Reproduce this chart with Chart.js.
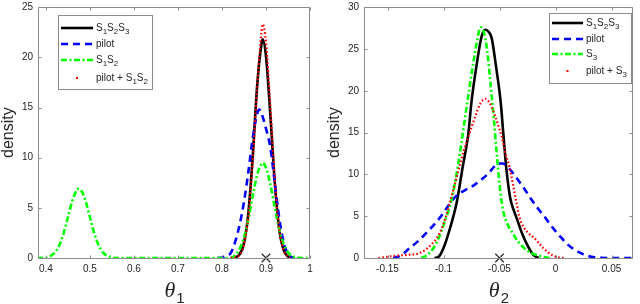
<!DOCTYPE html>
<html>
<head>
<meta charset="utf-8">
<title>theta densities</title>
<script src="https://cdn.jsdelivr.net/npm/chart.js@4.4.0/dist/chart.umd.min.js"></script>
<style>
  html, body { margin: 0; padding: 0; background: #fff; }
  #wrap { position: relative; width: 640px; height: 304px; }
  canvas { position: absolute; top: 0; }
  #c1 { left: 0; }
  #c2 { left: 320px; }
</style>
</head>
<body>
<div id="wrap">
  <canvas id="c1" width="320" height="304"></canvas>
  <canvas id="c2" width="320" height="304"></canvas>
</div>
<script>
// ---------- data ----------

// left panel (theta_1)
const xTicks1 = [0.4, 0.5, 0.6, 0.7, 0.8, 0.9, 1];
const xLabels1 = ["0.4", "0.5", "0.6", "0.7", "0.8", "0.9", "1"];
const yTicks1 = [0, 5, 10, 15, 20, 25];
const labels1 = ["S_1S_2S_3", "pilot", "S_1S_2", "pilot + S_1S_2"];
const trueX1 = [0.9];

const fullX1 = [0.82, 0.83, 0.84, 0.85, 0.86, 0.87, 0.88, 0.89, 0.8925, 0.90, 0.91, 0.92, 0.93, 0.94, 0.95, 0.96];
const fullY1 = [0, 0.07, 0.36, 1.5, 4.5, 10.2, 17.2, 21.4, 21.8, 20.1, 14.2, 7.5, 2.9, 0.8, 0.15, 0];

const pilotX1 = [0.79, 0.80, 0.81, 0.82, 0.83, 0.84, 0.85, 0.86, 0.87, 0.88, 0.885, 0.89, 0.90, 0.91, 0.92, 0.93, 0.94, 0.95, 0.96, 0.965];
const pilotY1 = [0, 0.05, 0.2, 0.5, 1.6, 3.3, 5.6, 8.6, 12.0, 14.4, 14.8, 14.4, 12.9, 11.0, 7.5, 4.0, 1.6, 0.4, 0.05, 0];

const partX1 = [0.38, 0.40, 0.41, 0.42, 0.43, 0.44, 0.45, 0.46, 0.47, 0.475, 0.48, 0.49, 0.50, 0.51, 0.52, 0.53, 0.54, 0.55, 0.56,
                0.82, 0.83, 0.84, 0.85, 0.86, 0.87, 0.88, 0.89, 0.8925, 0.90, 0.91, 0.92, 0.93, 0.94, 0.95, 0.96, 0.97, 0.98, 1.0];
const partY1 = [0, 0.03, 0.2, 0.53, 1.24, 2.44, 4.06, 5.7, 6.75, 6.9, 6.75, 5.7, 4.06, 2.44, 1.24, 0.53, 0.2, 0.06, 0,
                0, 0.3, 0.9, 2.05, 3.9, 6.2, 8.3, 9.4, 9.48, 9.0, 7.3, 5.0, 2.9, 1.4, 0.57, 0.2, 0.05, 0, 0];

const mixX1 = [0.82, 0.83, 0.84, 0.85, 0.86, 0.87, 0.88, 0.89, 0.8925, 0.90, 0.91, 0.92, 0.93, 0.94, 0.95, 0.955];
const mixY1 = [0, 0.05, 0.3, 1.3, 4.2, 9.8, 17.0, 22.6, 23.3, 21.5, 15.0, 7.8, 2.9, 0.8, 0.12, 0];

// right panel (theta_2)
const xTicks2 = [-0.15, -0.1, -0.05, 0, 0.05];
const xLabels2 = ["-0.15", "-0.1", "-0.05", "0", "0.05"];
const yTicks2 = [0, 5, 10, 15, 20, 25, 30];
const labels2 = ["S_1S_2S_3", "pilot", "S_3", "pilot + S_3"];
const trueX2 = [-0.05];

const fullX2 = [-0.108, -0.104, -0.100, -0.095, -0.088, -0.083, -0.078, -0.075, -0.071, -0.066, -0.0628, -0.060, -0.057, -0.053,
                -0.049, -0.0465, -0.044, -0.0405, -0.037, -0.034, -0.030, -0.025, -0.020, -0.015];
const fullY2 = [0, 0.2, 1.2, 3.2, 6.8, 10.8, 14.7, 18.7, 22.6, 26.5, 27.3, 27.1, 26.3, 22.8,
                18.7, 14.7, 10.8, 7.2, 5.6, 4.5, 3.0, 1.5, 0.4, 0];

const pilotX2 = [-0.145, -0.138, -0.131, -0.122, -0.114, -0.107, -0.1, -0.094, -0.088, -0.081, -0.074, -0.067, -0.060, -0.055,
                 -0.051, -0.047, -0.042, -0.036, -0.029, -0.021, -0.015, -0.009, -0.003, 0.004, 0.011, 0.017, 0.023, 0.029,
                 0.035, 0.041, 0.046, 0.069];
const pilotY2 = [0, 0.3, 1.1, 2.1, 3.2, 4.2, 5.4, 6.6, 7.5, 8.1, 8.6, 9.3, 10.1, 10.9,
                 11.3, 11.3, 10.8, 9.8, 8.5, 6.9, 5.8, 4.8, 3.7, 2.6, 1.6, 1.0, 0.55, 0.25,
                 0.08, 0.01, 0, 0];

const partX2 = [-0.12, -0.115, -0.109, -0.104, -0.099, -0.093, -0.0874, -0.083, -0.0787, -0.0743, -0.070, -0.067, -0.064, -0.061,
                -0.058, -0.055, -0.0525, -0.050, -0.047, -0.043, -0.038, -0.033, -0.028, -0.022, -0.015, -0.008, -0.004];
const partY2 = [0, 0.3, 1.2, 2.5, 4.3, 6.85, 10.8, 14.7, 18.7, 22.6, 26.0, 27.6, 27.0, 24.8,
                20.8, 16.5, 12.5, 8.8, 5.8, 4.1, 2.9, 1.9, 1.2, 0.6, 0.3, 0.05, 0];

const mixX2 = [-0.158, -0.15, -0.14, -0.13, -0.122, -0.116, -0.111, -0.106, -0.102, -0.098, -0.094, -0.090, -0.086, -0.082,
               -0.0773, -0.0715, -0.067, -0.0628, -0.059, -0.054, -0.051, -0.048, -0.045, -0.041, -0.038, -0.0352, -0.0323,
               -0.028, -0.0236, -0.019, -0.015, -0.011, -0.0077, -0.003, 0.002, 0.008];
const mixY2 = [0, 0.15, 0.3, 0.4, 0.55, 1.0, 1.6, 2.4, 3.4, 4.9, 6.8, 8.8, 10.8, 12.8,
               14.7, 17.0, 18.5, 19.05, 18.6, 17.0, 15.8, 14.5, 12.7, 10.8, 8.8, 6.85, 4.9,
               3.6, 2.9, 2.4, 1.8, 1.2, 0.8, 0.35, 0.1, 0];

// ---------- helpers ----------
const INK = "#262626";
const SANS = "'Liberation Sans', Arial, Helvetica, sans-serif";

function pts(xs, ys) {
    return xs.map((x, i) => ({ x: x, y: ys[i] }));
}

// draw text where "_c" puts c as a subscript
function richText(ctx, str, x, y, size) {
    let i = 0;
    while (i < str.length) {
        let ch = str[i], sub = false;
        if (ch === "_") { sub = true; ch = str[++i]; }
        ctx.font = (sub ? size * 0.8 : size) + "px " + SANS;
        ctx.fillText(ch, x, sub ? y + size * 0.35 : y);
        x += ctx.measureText(ch).width;
        i++;
    }
    return x;
}

// MATLAB-like box, inward ticks, axis titles and the legend
const frame = {
    id: "frame",
    afterDraw(chart, args, o) {
        const ctx = chart.ctx, a = chart.chartArea;
        const sx = chart.scales.x, sy = chart.scales.y;
        const L = Math.round(a.left) + 0.5, R = Math.round(a.right) - 0.5;
        const T = Math.round(a.top) + 0.5, B = Math.round(a.bottom) + 0.5;
        ctx.save();

        // box + ticks
        ctx.strokeStyle = "#8c8c8c";
        ctx.lineWidth = 1;
        ctx.beginPath();
        ctx.rect(L, T, R - L, B - T);
        sx.ticks.forEach(t => {
            const p = Math.round(sx.getPixelForValue(t.value)) + 0.5;
            ctx.moveTo(p, B); ctx.lineTo(p, B - 3);
            ctx.moveTo(p, T); ctx.lineTo(p, T + 3);
        });
        sy.ticks.forEach(t => {
            const p = Math.round(sy.getPixelForValue(t.value)) + 0.5;
            ctx.moveTo(L, p); ctx.lineTo(L + 3, p);
            ctx.moveTo(R, p); ctx.lineTo(R - 3, p);
        });
        ctx.stroke();

        // y title
        ctx.fillStyle = INK;
        ctx.save();
        ctx.translate(o.yTitleX, (a.top + a.bottom) / 2);
        ctx.rotate(-Math.PI / 2);
        ctx.font = "16px " + SANS;
        ctx.textAlign = "center";
        ctx.textBaseline = "middle";
        ctx.fillText("density", 0, 0);
        ctx.restore();

        // x title: theta with subscript
        ctx.textBaseline = "alphabetic";
        ctx.font = "italic 22px 'Liberation Serif', 'DejaVu Serif', serif";
        const wT = ctx.measureText("\u03b8").width;
        ctx.font = "15px " + SANS;
        const wS = ctx.measureText(o.sub).width;
        let tx = (a.left + a.right) / 2 - (wT + wS) / 2;
        ctx.font = "italic 22px 'Liberation Serif', 'DejaVu Serif', serif";
        ctx.fillText("\u03b8", tx, 297);
        ctx.font = "15px " + SANS;
        ctx.fillText(o.sub, tx + wT + 1, 303);

        // legend
        const lg = o.legend;
        ctx.fillStyle = "#fff";
        ctx.fillRect(lg.x0, lg.y0, lg.x1 - lg.x0, lg.y1 - lg.y0);
        ctx.strokeStyle = "#8c8c8c";
        ctx.strokeRect(lg.x0 + 0.5, lg.y0 + 0.5, lg.x1 - lg.x0, lg.y1 - lg.y0);
        chart.data.datasets.forEach((ds, i) => {
            if (!ds.label) return;
            const y = lg.rows[i];
            ctx.strokeStyle = ds.borderColor;
            ctx.fillStyle = ds.borderColor;
            if (ds.legendDot) {
                ctx.fillRect((lg.lx0 + lg.lx1) / 2 - 1, y - 1, 2, 2);
            } else {
                ctx.lineWidth = ds.borderWidth;
                ctx.setLineDash(ds.borderDash || []);
                ctx.beginPath();
                ctx.moveTo(lg.lx0, y);
                ctx.lineTo(lg.lx1, y);
                ctx.stroke();
                ctx.setLineDash([]);
            }
            ctx.fillStyle = INK;
            ctx.textBaseline = "middle";
            richText(ctx, ds.label, lg.tx, y, 10);
        });
        ctx.restore();
    }
};

function makeDatasets(labels, series, trueX) {
    const styles = [
        { borderColor: "#000000", borderWidth: 2.6, borderDash: [], order: 3 },
        { borderColor: "#0000ff", borderWidth: 2.6, borderDash: [7, 5], order: 2 },
        { borderColor: "#00ff00", borderWidth: 2.6, borderDash: [6, 2.5, 2, 2.5], order: 1 },
        { borderColor: "#ff0000", borderWidth: 2.2, borderDash: [1.6, 2.2], order: 0, legendDot: true }
    ];
    const sets = series.map((s, i) => Object.assign({
        label: labels[i],
        data: pts(s[0], s[1]),
        showLine: true,
        pointRadius: 0,
        fill: false,
        cubicInterpolationMode: "monotone"
    }, styles[i]));
    sets.push({
        label: "",
        data: trueX.map(x => ({ x: x, y: 0 })),
        showLine: false,
        pointStyle: "crossRot",
        pointRadius: 6,
        borderColor: INK,
        borderWidth: 1.2,
        order: -1,
        clip: false
    });
    return sets;
}

function makeChart(id, cfg) {
    const ctx = document.getElementById(id).getContext("2d");
    return new Chart(ctx, {
        type: "scatter",
        data: { datasets: makeDatasets(cfg.labels, cfg.series, cfg.trueX) },
        options: {
            responsive: false,
            animation: false,
            events: [],
            layout: { padding: { top: 4, right: cfg.padRight, left: 0, bottom: 0 } },
            plugins: {
                legend: { display: false },
                tooltip: { enabled: false },
                frame: cfg.frame
            },
            scales: {
                x: {
                    type: "linear",
                    min: cfg.xmin,
                    max: cfg.xmax,
                    grid: { display: false, drawTicks: false },
                    border: { display: false },
                    afterBuildTicks: s => { s.ticks = cfg.xTicks.map(v => ({ value: v })); },
                    afterFit: s => { s.height = 46; s.paddingLeft = 0; s.paddingRight = 0; },
                    ticks: {
                        padding: 5,
                        color: INK,
                        maxRotation: 0,
                        autoSkip: false,
                        font: { family: SANS, size: 10 },
                        callback: v => cfg.xLabels[cfg.xTicks.findIndex(t => Math.abs(t - v) < 1e-9)]
                    }
                },
                y: {
                    type: "linear",
                    min: 0,
                    max: cfg.ymax,
                    grid: { display: false, drawTicks: false },
                    border: { display: false },
                    afterBuildTicks: s => { s.ticks = cfg.yTicks.map(v => ({ value: v })); },
                    afterFit: s => { s.width = cfg.yWidth; s.paddingTop = 0; s.paddingBottom = 0; },
                    ticks: {
                        padding: 5,
                        color: INK,
                        font: { family: SANS, size: 10 },
                        callback: v => String(v)
                    }
                }
            }
        },
        plugins: [frame]
    });
}

document.addEventListener("DOMContentLoaded", () => {
    makeChart("c1", {
        labels: labels1,
        series: [[fullX1, fullY1], [pilotX1, pilotY1], [partX1, partY1], [mixX1, mixY1]],
        trueX: trueX1,
        xmin: 0.382, xmax: 1.0, xTicks: xTicks1, xLabels: xLabels1,
        ymax: 25, yTicks: yTicks1,
        yWidth: 38, padRight: 10,
        frame: {
            yTitleX: 9, sub: "1",
            legend: { x0: 58, y0: 15, x1: 152, y1: 89, lx0: 61, lx1: 93, tx: 96, rows: [28, 44, 60, 78] }
        }
    });
    makeChart("c2", {
        labels: labels2,
        series: [[fullX2, fullY2], [pilotX2, pilotY2], [partX2, partY2], [mixX2, mixY2]],
        trueX: trueX2,
        xmin: -0.171, xmax: 0.069, xTicks: xTicks2, xLabels: xLabels2,
        ymax: 30, yTicks: yTicks2,
        yWidth: 44, padRight: 1,
        frame: {
            yTitleX: 15, sub: "2",
            legend: { x0: 229, y0: 13, x1: 311, y1: 83, lx0: 232, lx1: 263, tx: 266, rows: [23, 39, 54, 71] }
        }
    });
});
</script>
</body>
</html>
